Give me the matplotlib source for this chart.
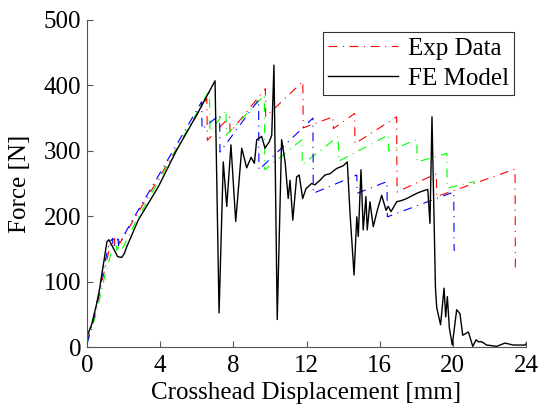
import matplotlib
matplotlib.use("Agg")
import matplotlib.pyplot as plt

# ---------------- data ----------------
fe_x = [0, 0.05, 0.25, 0.62, 1.09, 1.2, 1.35, 1.68, 1.9, 2.04, 2.17, 2.8, 3.9, 4.9, 6.0, 7.0,
        7.22, 7.45, 7.64, 7.87, 8.13, 8.46, 8.73, 8.97, 9.15, 9.28, 9.55, 9.73, 9.97, 10.1,
        10.22, 10.4, 10.64, 10.83, 11.0, 11.1, 11.25, 11.46, 11.6, 11.79, 11.97, 12.28, 12.46,
        12.74, 13.01, 13.29, 13.65, 14.0, 14.23, 14.38, 14.6, 14.75, 14.83, 14.98, 15.1, 15.25,
        15.32, 15.47, 15.65, 15.87, 16.11, 16.35, 16.47, 16.62, 16.93, 17.2, 17.48, 17.75, 18.03,
        18.3, 18.63, 18.75, 18.86, 19.05, 19.12, 19.33, 19.52, 19.61, 19.7, 19.81, 19.97, 20.21,
        20.39, 20.54, 20.85, 21.09, 21.27, 21.4, 21.58, 21.85, 22.4, 22.85, 23.3, 23.95, 24.0]
fe_y = [15, 20, 34, 77, 161, 164, 156, 138, 137, 143, 153, 194, 245, 301, 355, 407,
        52, 283, 215, 309, 192, 304, 274, 290, 281, 317, 322, 304, 314, 324,
        431, 42, 317, 283, 227, 255, 194, 260, 263, 227, 242, 250, 248,
        255, 263, 265, 273, 277, 283, 204, 110, 199, 169, 271, 179, 230,
        179, 222, 184, 209, 232, 209, 215, 207, 222, 224, 227, 231, 235,
        238, 241, 189, 352, 90, 60, 34, 90, 46, 77, 29, 3, 57,
        51, 18, 23, 1, 11, 8, 8, 3, 1, 6, 3, 3, 5]

red_x = [0, 0.4, 0.9, 1.3, 1.5, 1.52, 1.75, 1.77, 2.05, 2.5, 6.55, 6.58, 7.8, 7.82, 9.75, 9.77,
         11.8, 11.82, 13.45, 13.47, 14.63, 14.65, 16.93, 16.95, 19.1, 19.12, 23.4, 23.42, 23.55]
red_y = [8, 45, 110, 160, 166, 156, 168, 158, 170, 192, 380, 316, 352, 328, 395, 352,
         406, 335, 352, 334, 357, 311, 352, 237, 265, 230, 272, 120, 120]

green_x = [0, 0.5, 1.0, 1.4, 1.6, 1.62, 1.9, 1.92, 2.2, 2.6, 6.7, 6.72, 7.6, 7.62, 9.7, 9.72,
           11.75, 11.77, 13.74, 13.76, 16.47, 16.49, 18.03, 18.05, 19.67, 19.69, 21.2]
green_y = [5, 50, 112, 152, 157, 148, 160, 150, 165, 188, 393, 329, 362, 324, 385, 271,
           317, 279, 322, 284, 324, 300, 317, 283, 296, 243, 253]

blue_x = [0, 0.3, 0.8, 1.2, 1.4, 1.42, 1.7, 1.72, 2.0, 2.4, 6.27, 6.29, 7.25, 7.27, 9.38, 9.4,
          12.35, 12.37, 14.75, 14.77, 16.4, 16.42, 20.05, 20.07, 20.12]
blue_y = [5, 35, 105, 158, 166, 152, 165, 155, 170, 190, 375, 333, 355, 298, 378, 271,
          350, 235, 263, 235, 253, 199, 237, 148, 148]

x_ticks = [0, 4, 8, 12, 16, 20, 24]
y_ticks = [0, 100, 200, 300, 400, 500]
x_label = "Crosshead Displacement [mm]"
y_label = "Force [N]"
legend_labels = ["Exp Data", "FE Model"]

# ---------------- plot ----------------
plt.rcParams['font.family'] = ['Liberation Serif', 'DejaVu Serif']
plt.rcParams['font.size'] = 18

W, H = 539, 408
fig = plt.figure(figsize=(W / 100, H / 100), dpi=100)
ax = fig.add_axes([87 / W, 1 - 347 / H, 439 / W, 327 / H])

ls = (0, (8, 5, 1, 5))
l_red, = ax.plot(red_x, red_y, color='#ff0000', lw=0.8, linestyle=ls)
ax.plot(green_x, green_y, color='#00ff00', lw=0.8, linestyle=ls)
ax.plot(blue_x, blue_y, color='#0000ff', lw=0.8, linestyle=ls)
l_fe, = ax.plot(fe_x, fe_y, color='black', lw=1.0)

ax.set_xlim(0, 24)
ax.set_ylim(0, 500)
ax.set_xticks(x_ticks)
ax.set_yticks(y_ticks)
ax.spines['top'].set_visible(False)
ax.spines['right'].set_visible(False)
for s in ('left', 'bottom'):
    ax.spines[s].set_color('#555555')
    ax.spines[s].set_linewidth(0.8)
ax.tick_params(direction='in', length=4, width=0.8, color='#555555')
ax.tick_params(axis='x', pad=6)
ax.tick_params(axis='y', pad=4)

ax.set_xlabel(x_label, labelpad=3)
ax.set_ylabel(y_label, labelpad=9)

leg = ax.legend([l_red, l_fe], legend_labels, loc='upper right',
                bbox_to_anchor=(0.973, 0.963), borderaxespad=0,
                fancybox=False, frameon=True, handlelength=2.8,
                handletextpad=0.4, borderpad=0.2, labelspacing=0.3)
leg.get_frame().set_edgecolor('black')
leg.get_frame().set_linewidth(0.8)

fig.savefig('out.png', dpi=100)
